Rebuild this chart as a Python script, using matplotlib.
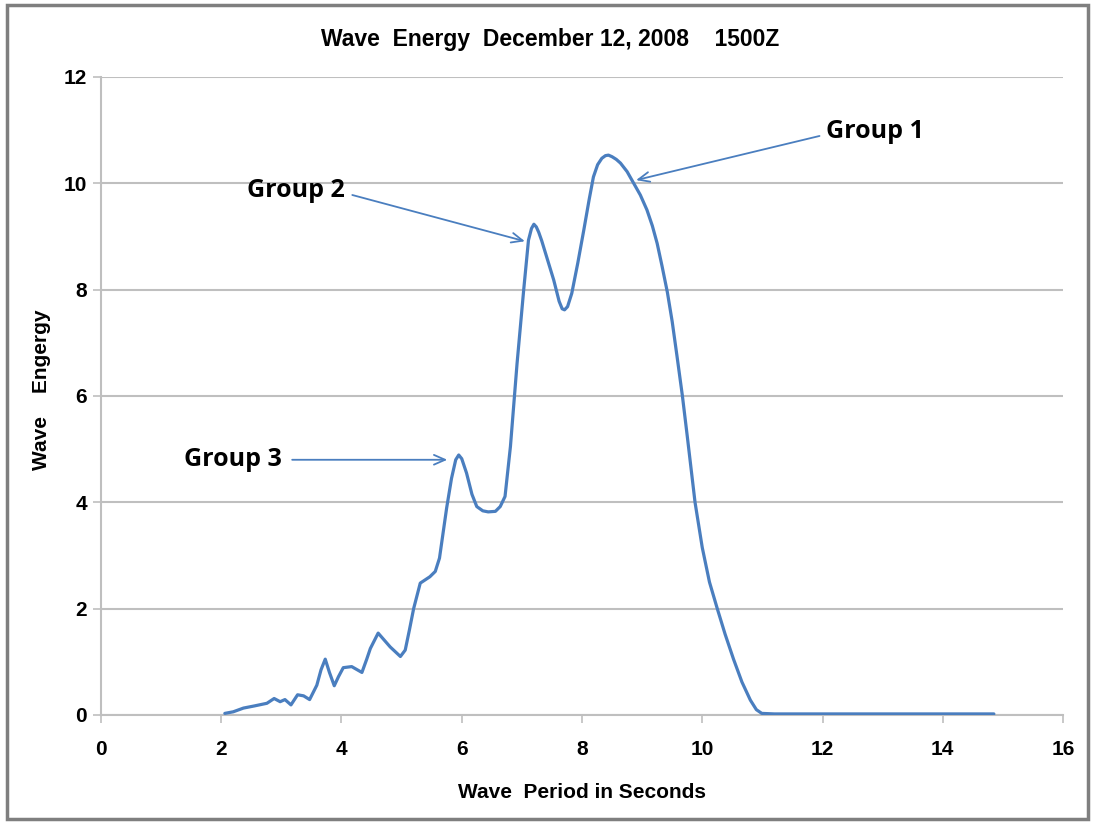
import matplotlib.pyplot as plt
from matplotlib.patches import Rectangle

# values
period = [2.06, 2.2, 2.37, 2.55, 2.76, 2.88, 2.98, 3.06, 3.16, 3.27, 3.37, 3.47,
          3.59, 3.66, 3.73, 3.80, 3.88, 3.95, 4.03, 4.17, 4.34, 4.42, 4.48, 4.61,
          4.81, 4.98, 5.06, 5.13, 5.20, 5.31, 5.47, 5.56, 5.63, 5.75, 5.83, 5.90,
          5.95, 6.00, 6.08, 6.17, 6.25, 6.35, 6.44, 6.56, 6.64, 6.72, 6.81, 6.92,
          7.03, 7.11, 7.16, 7.20, 7.24, 7.28, 7.33, 7.43, 7.53, 7.62, 7.67, 7.71,
          7.76, 7.83, 7.93, 8.03, 8.12, 8.19, 8.26, 8.33, 8.39, 8.44, 8.50, 8.57,
          8.64, 8.75, 8.86, 8.97, 9.08, 9.17, 9.25, 9.33, 9.42, 9.50, 9.58, 9.67,
          9.75, 9.88, 10.0, 10.12, 10.25, 10.38, 10.52, 10.66, 10.80, 10.90,
          10.99, 11.2, 12.0, 13.0, 14.0, 14.85]
energy = [0.03, 0.06, 0.13, 0.17, 0.22, 0.31, 0.25, 0.29, 0.19, 0.38, 0.36, 0.29,
          0.56, 0.85, 1.05, 0.80, 0.55, 0.72, 0.89, 0.91, 0.80, 1.05, 1.25, 1.54,
          1.28, 1.10, 1.22, 1.60, 2.00, 2.48, 2.60, 2.70, 2.95, 3.90, 4.45, 4.80,
          4.89, 4.82, 4.55, 4.15, 3.92, 3.84, 3.82, 3.83, 3.92, 4.11, 5.05, 6.61,
          7.99, 8.93, 9.15, 9.23, 9.18, 9.08, 8.92, 8.55, 8.18, 7.78, 7.64, 7.62,
          7.68, 7.93, 8.50, 9.12, 9.70, 10.12, 10.35, 10.47, 10.52, 10.53, 10.50,
          10.45, 10.38, 10.22, 10.0, 9.78, 9.50, 9.20, 8.87, 8.45, 7.95, 7.40,
          6.75, 6.00, 5.25, 4.00, 3.15, 2.50, 2.00, 1.52, 1.05, 0.62, 0.28, 0.10,
          0.03, 0.02, 0.02, 0.02, 0.02, 0.02]

groups = ["Group 1", "Group 2", "Group 3"]
label_xy = [(12.05, 10.98), (2.43, 9.87), (1.38, 4.81)]
tip_xy = [(8.90, 10.06), (7.05, 8.91), (5.76, 4.80)]
tail_xy = [(11.95, 10.89), (4.18, 9.78), (3.18, 4.80)]

line_col = "#4A7EBF"
grid_col = "#BFBFBF"
sans = ["Liberation Sans", "DejaVu Sans"]

fig = plt.figure(figsize=(10.95, 8.24), dpi=100)
ax = fig.add_axes([0.0922, 0.1323, 0.8786, 0.7743])

ax.plot(period, energy, color=line_col, lw=2.3, solid_capstyle="round",
        solid_joinstyle="round", zorder=3)

ax.set_xlim(0, 16)
ax.set_ylim(0, 12)
ax.set_xticks(range(0, 17, 2))
ax.set_yticks(range(0, 13, 2))
ax.yaxis.grid(True, color=grid_col, lw=1.5)
ax.set_axisbelow(True)
for s in ["top", "right"]:
    ax.spines[s].set_visible(False)
for s in ["left", "bottom"]:
    ax.spines[s].set_color(grid_col)
    ax.spines[s].set_linewidth(1.5)
ax.tick_params(axis="both", color=grid_col, width=1.2, length=6, labelsize=15)
ax.tick_params(axis="x", pad=12)
ax.tick_params(axis="y", pad=4)
for t in ax.get_xticklabels() + ax.get_yticklabels():
    t.set_fontfamily(sans)
    t.set_fontweight("bold")

ax.set_xlabel("Wave  Period in Seconds", fontsize=15, fontweight="bold",
              family=sans, labelpad=17)
ax.set_ylabel("Wave    Engergy", fontsize=15, fontweight="bold",
              family=sans)
ax.yaxis.set_label_coords(-0.052, 0.51)
ax.set_title("Wave  Energy  December 12, 2008    1500Z", fontsize=16.5,
             family=sans, fontweight="bold", pad=22, x=0.467)

for name, lab, tip, tail in zip(groups, label_xy, tip_xy, tail_xy):
    ax.text(lab[0], lab[1], name, fontsize=18, fontweight="bold",
            family=["Open Sans", "DejaVu Sans"], va="center", ha="left")
    ax.annotate("", xy=tip, xytext=tail,
                arrowprops=dict(arrowstyle="->,head_length=0.8,head_width=0.35",
                                color=line_col, lw=1.3, shrinkA=0, shrinkB=0))

fig.patches.append(Rectangle((0.006, 0.006), 0.988, 0.988,
                             transform=fig.transFigure, fill=False,
                             edgecolor="#7F7F7F", lw=2.5))

fig.savefig("out.png", dpi=100)
